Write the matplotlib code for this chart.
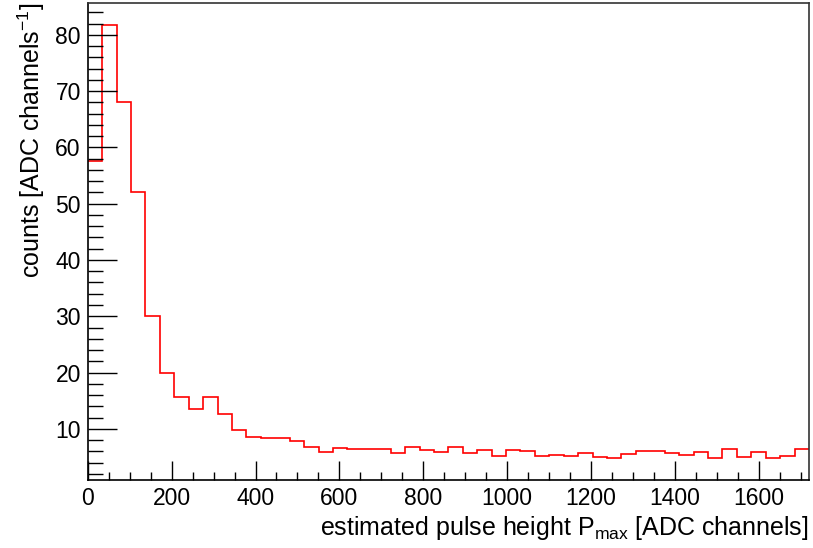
import numpy as np
import matplotlib
matplotlib.use('Agg')
import matplotlib.pyplot as plt
from matplotlib.ticker import MultipleLocator

plt.rcParams['font.family'] = ['Liberation Sans', 'DejaVu Sans']
plt.rcParams['mathtext.fontset'] = 'custom'
plt.rcParams['mathtext.rm'] = 'Liberation Sans'
plt.rcParams['mathtext.it'] = 'Liberation Sans:italic'

# 50 bins from 0 to 1720 ADC channels
x_lo, x_hi, n_bins = 0, 1720, 50
counts = [57.5, 81.8, 68.0, 52.0, 30.0, 19.9, 15.6, 13.5, 15.7, 12.7,
          9.8, 8.6, 8.3, 8.4, 7.75, 6.8, 5.9, 6.6, 6.5, 6.5,
          6.5, 5.7, 6.7, 6.15, 5.85, 6.7, 5.7, 6.3, 5.1, 6.15,
          6.0, 5.15, 5.3, 5.1, 5.65, 5.0, 4.75, 5.45, 6.1, 6.1,
          5.75, 5.3, 5.9, 4.75, 6.45, 4.95, 5.9, 4.75, 5.2, 6.4]

edges = np.linspace(x_lo, x_hi, n_bins + 1)

fig = plt.figure(figsize=(8.13, 5.48), dpi=100)
ax = fig.add_axes([0.108, 0.124, 0.887, 0.8705])

ax.stairs(counts, edges, color='#ff0000', lw=1.2, baseline=None)

# root-like y range: 5% margin around min/max
margin = 0.05 * (max(counts) - min(counts))
ax.set_xlim(x_lo, x_hi)
ax.set_ylim(min(counts) - margin, max(counts) + margin)

ax.xaxis.set_major_locator(MultipleLocator(200))
ax.xaxis.set_minor_locator(MultipleLocator(50))
ax.yaxis.set_major_locator(MultipleLocator(10))
ax.yaxis.set_minor_locator(MultipleLocator(2))
ax.tick_params(which='both', direction='in', top=False, right=False,
               labelsize=16.5, width=1, color='black')
ax.tick_params(axis='x', which='major', length=14, pad=5)
ax.tick_params(axis='x', which='minor', length=6)
ax.tick_params(axis='y', which='major', length=21, pad=5)
ax.tick_params(axis='y', which='minor', length=10.5)

for s in ['left', 'bottom']:
    ax.spines[s].set_linewidth(1.2)
    ax.spines[s].set_color('black')
for s in ['top', 'right']:
    ax.spines[s].set_linewidth(1.2)
    ax.spines[s].set_color('#333333')

ax.set_xlabel(r'estimated pulse height P$_{\mathrm{max}}$ [ADC channels]',
              fontsize=18, loc='right', labelpad=3)
ax.set_ylabel(r'counts [ADC channels$^{\mathrm{-1}}$]',
              fontsize=18, loc='top', labelpad=6)

fig.savefig('out.png', dpi=100)
